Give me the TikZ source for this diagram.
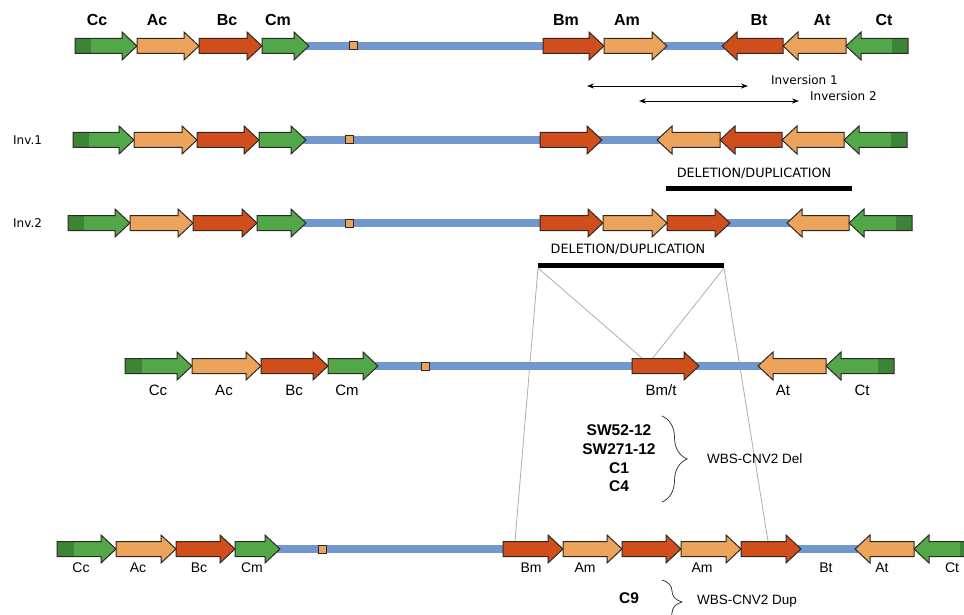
\documentclass[tikz,border=0pt]{standalone}
\usepackage{fontspec}
\setmainfont{Liberation Sans}
\newfontfamily\dvfont{DejaVu Sans}
\usetikzlibrary{arrows.meta,decorations.pathreplacing}
\definecolor{gGreen}{RGB}{82,168,72}
\definecolor{gDarkGreen}{RGB}{62,132,56}
\definecolor{gLight}{RGB}{236,163,92}
\definecolor{gRed}{RGB}{207,78,28}
\definecolor{gBlue}{RGB}{114,151,205}
\definecolor{gOut}{RGB}{45,40,35}
\definecolor{gGray}{RGB}{175,175,175}
\tikzset{
  geneshape/.style={draw=gOut,line width=1pt,line join=miter},
  blueline/.style={draw=gBlue,line width=8pt},
  marker/.style={fill=gLight,draw=gOut,line width=1pt},
  lab/.style={inner sep=0pt,text height=0.72em,text depth=0pt,anchor=center},
  toplab/.style={lab,font=\bfseries\fontsize{16}{18}\selectfont},
  sublab/.style={lab,font=\fontsize{15}{17}\selectfont},
  botlab/.style={lab,font=\fontsize{14}{16}\selectfont},
  smalltxt/.style={lab,font=\dvfont\fontsize{12}{14}\selectfont},
  deltxt/.style={lab,font=\dvfont\fontsize{12.8}{14}\selectfont},
  boldtxt/.style={lab,font=\bfseries\fontsize{15.5}{17}\selectfont},
  wbstxt/.style={lab,anchor=west,font=\fontsize{13.5}{15}\selectfont},
  bar/.style={line width=5pt,draw=black},
  guide/.style={draw=gGray,line width=0.8pt},
  invarrow/.style={draw=black,line width=0.9pt,{Stealth[length=7pt,width=5pt]}-{Stealth[length=7pt,width=5pt]}},
  bracestyle/.style={draw=gOut,line width=0.7pt}
}
% right-pointing gene: start, tip, y, colour
\newcommand\GeneR[4]{\filldraw[geneshape,fill=#4] (#1,#3-7.5) -- (#2-15,#3-7.5) -- (#2-15,#3-14) -- (#2,#3) -- (#2-15,#3+14) -- (#2-15,#3+7.5) -- (#1,#3+7.5) -- cycle;}
% left-pointing gene: tip, end, y, colour
\newcommand\GeneL[4]{\filldraw[geneshape,fill=#4] (#2,#3-7.5) -- (#1+15,#3-7.5) -- (#1+15,#3-14) -- (#1,#3) -- (#1+15,#3+14) -- (#1+15,#3+7.5) -- (#2,#3+7.5) -- cycle;}
% right-pointing green gene with dark tail: start, tip, y, dark end
\newcommand\GeneRD[4]{\fill[gGreen] (#1,#3-7.5) -- (#2-15,#3-7.5) -- (#2-15,#3-14) -- (#2,#3) -- (#2-15,#3+14) -- (#2-15,#3+7.5) -- (#1,#3+7.5) -- cycle;
  \fill[gDarkGreen] (#1,#3-7.5) rectangle (#4,#3+7.5);
  \draw[geneshape] (#1,#3-7.5) -- (#2-15,#3-7.5) -- (#2-15,#3-14) -- (#2,#3) -- (#2-15,#3+14) -- (#2-15,#3+7.5) -- (#1,#3+7.5) -- cycle;}
% left-pointing green gene with dark tail: tip, end, y, dark start
\newcommand\GeneLD[4]{\fill[gGreen] (#2,#3-7.5) -- (#1+15,#3-7.5) -- (#1+15,#3-14) -- (#1,#3) -- (#1+15,#3+14) -- (#1+15,#3+7.5) -- (#2,#3+7.5) -- cycle;
  \fill[gDarkGreen] (#4,#3-7.5) rectangle (#2,#3+7.5);
  \draw[geneshape] (#2,#3-7.5) -- (#1+15,#3-7.5) -- (#1+15,#3-14) -- (#1,#3) -- (#1+15,#3+14) -- (#1+15,#3+7.5) -- (#2,#3+7.5) -- cycle;}
\newcommand\Marker[2]{\filldraw[marker] (#1-4,#2-4) rectangle (#1+4,#2+4);}
\begin{document}
\begin{tikzpicture}[x=1pt,y=-1pt]
\useasboundingbox (0,0) rectangle (964,615);
\clip (0,0) rectangle (964,615);
\fill[white] (0,0) rectangle (964,615);

% ---------------- Row 1 (y=46)
\draw[blueline] (305,46) -- (547,46);
\draw[blueline] (664,46) -- (725,46);
\Marker{353}{46}
\GeneRD{75}{137}{46}{91}
\GeneR{137}{199}{46}{gLight}
\GeneR{199}{262}{46}{gRed}
\GeneR{262}{309}{46}{gGreen}
\GeneR{543}{604}{46}{gRed}
\GeneR{604}{667}{46}{gLight}
\GeneL{722}{783}{46}{gRed}
\GeneL{783}{846}{46}{gLight}
\GeneLD{846}{908}{46}{892}
\node[toplab] (t1) at (97,22) {Cc};
\node[toplab] (t2) at (157,22) {Ac};
\node[toplab] (t3) at (227,22) {Bc};
\node[toplab] (t4) at (278,22) {Cm};
\node[toplab] (t5) at (566,22) {Bm};
\node[toplab] (t6) at (627,22) {Am};
\node[toplab] (t7) at (759,22) {Bt};
\node[toplab] (t8) at (822,22) {At};
\node[toplab] (t9) at (884,22) {Ct};

% inversions
\coordinate (i1a) at (587,86); \coordinate (i1b) at (748,86);
\coordinate (i2a) at (639,101); \coordinate (i2b) at (799,101);
\draw[invarrow] (i1a) -- (i1b);
\draw[invarrow] (i2a) -- (i2b);
\node[smalltxt,anchor=west] (inv1) at (771,80.5) {Inversion 1};
\node[smalltxt,anchor=west] (inv2) at (810,97) {Inversion 2};

% ---------------- Row 2 (y=140)
\node[smalltxt,anchor=west] (r2) at (13,141) {Inv.1};
\draw[blueline] (302,140) -- (544,140);
\draw[blueline] (598,140) -- (660,140);
\Marker{349}{140}
\GeneRD{73}{134}{140}{89}
\GeneR{134}{197}{140}{gLight}
\GeneR{197}{259}{140}{gRed}
\GeneR{259}{306}{140}{gGreen}
\GeneR{540}{602}{140}{gRed}
\GeneL{657}{720}{140}{gLight}
\GeneL{720}{782}{140}{gRed}
\GeneL{782}{844}{140}{gLight}
\GeneLD{844}{907}{140}{891}
\node[deltxt] (dd1) at (754,174) {DELETION/DUPLICATION};
\coordinate (b1a) at (666,188.5); \coordinate (b1b) at (852,188.5);
\draw[bar] (b1a) -- (b1b);

% ---------------- Row 3 (y=223)
\node[smalltxt,anchor=west] (r3) at (13,224) {Inv.2};
\draw[blueline] (302,223) -- (544,223);
\draw[blueline] (726,223) -- (790,223);
\Marker{349}{223}
\GeneRD{68}{130}{223}{84}
\GeneR{130}{193}{223}{gLight}
\GeneR{193}{257}{223}{gRed}
\GeneR{257}{306}{223}{gGreen}
\GeneR{540}{603}{223}{gRed}
\GeneR{603}{667}{223}{gLight}
\GeneR{667}{730}{223}{gRed}
\GeneL{787}{849}{223}{gLight}
\GeneLD{849}{912}{223}{896}
\node[deltxt] (dd2) at (628,250) {DELETION/DUPLICATION};
\coordinate (b2a) at (538,265.5); \coordinate (b2b) at (724,265.5);
\draw[bar] (b2a) -- (b2b);

% guide lines
\coordinate (g1) at (643,359); \coordinate (g2) at (652,359);
\coordinate (g3) at (515,541); \coordinate (g4) at (768,541);
\coordinate (b2al) at (538,268); \coordinate (b2bl) at (724,268);
\draw[guide] (b2al) -- (g1);
\draw[guide] (b2bl) -- (g2);
\draw[guide] (b2al) -- (g3);
\draw[guide] (b2bl) -- (g4);

% ---------------- Row 4 (y=366)
\draw[blueline] (374,366) -- (636,366);
\draw[blueline] (695,366) -- (761,366);
\Marker{425}{366}
\GeneRD{125}{192}{366}{142}
\GeneR{192}{261}{366}{gLight}
\GeneR{261}{328}{366}{gRed}
\GeneR{328}{378}{366}{gGreen}
\GeneR{632}{699}{366}{gRed}
\GeneL{758}{826}{366}{gLight}
\GeneLD{826}{894}{366}{878}
\node[sublab] (s1) at (158,392) {Cc};
\node[sublab] (s2) at (224,392) {Ac};
\node[sublab] (s3) at (294,392) {Bc};
\node[sublab] (s4) at (347,392) {Cm};
\node[sublab] (s5) at (661,392) {Bm/t};
\node[sublab] (s6) at (783,392) {At};
\node[sublab] (s7) at (862,392) {Ct};

% deletion group
\node[boldtxt] (d1) at (619,432) {SW52-12};
\node[boldtxt] (d2) at (619,451) {SW271-12};
\node[boldtxt] (d3) at (619,469.5) {C1};
\node[boldtxt] (d4) at (619,488) {C4};
\coordinate (brA) at (662,416); \coordinate (brB) at (662,502);
\draw[bracestyle,decorate,decoration={brace,amplitude=25pt}] (brA) -- (brB);
\node[wbstxt] (wdel) at (707,460) {WBS-CNV2 Del};

% ---------------- Row 5 (y=549)
\draw[blueline] (276,549) -- (507,549);
\draw[blueline] (797,549) -- (858,549);
\Marker{322}{549}
\GeneRD{57}{116}{549}{74}
\GeneR{116}{176}{549}{gLight}
\GeneR{176}{235}{549}{gRed}
\GeneR{235}{280}{549}{gGreen}
\GeneR{503}{563}{549}{gRed}
\GeneR{563}{622}{549}{gLight}
\GeneR{622}{681}{549}{gRed}
\GeneR{681}{741}{549}{gLight}
\GeneR{741}{801}{549}{gRed}
\GeneL{855}{914}{549}{gLight}
\GeneLD{914}{980}{549}{960}
\node[botlab] (u1) at (81,569) {Cc};
\node[botlab] (u2) at (138,569) {Ac};
\node[botlab] (u3) at (199,569) {Bc};
\node[botlab] (u4) at (252,569) {Cm};
\node[botlab] (u5) at (531,569) {Bm};
\node[botlab] (u6) at (585,569) {Am};
\node[botlab] (u7) at (702,569) {Am};
\node[botlab] (u8) at (826,569) {Bt};
\node[botlab] (u9) at (882,569) {At};
\node[botlab] (u10) at (952,569) {Ct};

% duplication group
\node[boldtxt] (c9) at (629,600) {C9};
\coordinate (brC) at (662,580); \coordinate (brD) at (662,624);
\draw[bracestyle,decorate,decoration={brace,amplitude=20pt}] (brC) -- (brD);
\node[wbstxt] (wdup) at (697,601) {WBS-CNV2 Dup};
\end{tikzpicture}
\end{document}
